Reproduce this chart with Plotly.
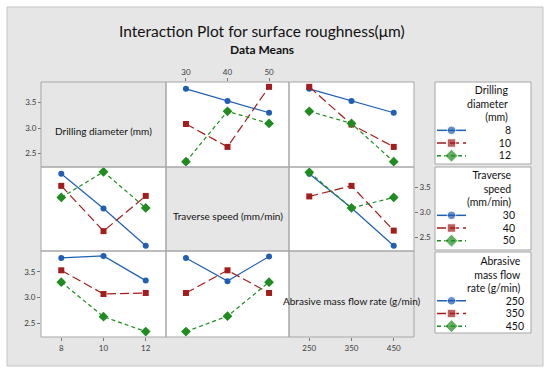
import plotly.graph_objects as go

W, H = 550, 370

# ---------------- data ----------------
factor_labels = ["Drilling diameter (mm)", "Traverse speed (mm/min)",
                 "Abrasive mass flow rate (g/min)"]
legend_titles = ["Drilling<br>diameter<br>(mm)", "Traverse<br>speed<br>(mm/min)",
                 "Abrasive<br>mass flow<br>rate (g/min)"]
drill_levels = [8, 10, 12]
speed_levels = [30, 40, 50]
flow_levels = [250, 350, 450]
# interaction means: rows = levels of first factor, columns = levels of second factor
mean_drill_speed = [[3.77, 3.53, 3.30], [3.08, 2.63, 3.81], [2.34, 3.33, 3.09]]
mean_drill_flow = [[3.77, 3.53, 3.30], [3.81, 3.07, 2.63], [3.33, 3.09, 2.34]]
mean_speed_flow = [[3.77, 3.09, 2.34], [3.32, 3.53, 2.64], [3.80, 3.09, 3.30]]
y_ticks = [2.5, 3.0, 3.5]
y_tick_text = ["2.5", "3.0", "3.5"]

levels = [drill_levels, speed_levels, flow_levels]
pair_means = {(0, 1): mean_drill_speed, (0, 2): mean_drill_flow, (1, 2): mean_speed_flow}


def means_for(r, c):
    if (r, c) in pair_means:
        return pair_means[(r, c)]
    m = pair_means[(c, r)]
    return [[m[i][j] for i in range(3)] for j in range(3)]


# ---------------- style ----------------
colors = ["#1f5fb4", "#a31d1d", "#1f8c1f"]
dashes = ["solid", "9px,4px", "4px,3px"]
symbols = ["circle", "square", "diamond"]
msizes = [6, 6, 7.5]
FONT = "Lato"
TICKFONT = dict(family=FONT, size=8, color="#3a3a3a")

col_px = [(41, 166), (166, 289), (289, 414)]
row_px = [(82, 167), (167, 251), (251, 337)]
y_range = [2.235, 3.905]


def fx(x):
    return x / W


def fy(y):
    return 1 - y / H


fig = go.Figure()
layout = {}
shapes = []
annotations = []

# background
shapes.append(dict(type="rect", xref="paper", yref="paper", x0=fx(7), x1=fx(543),
                   y0=fy(366), y1=fy(7), fillcolor="#e6e6e6",
                   line=dict(color="#c4c4c4", width=1), layer="below"))

k = 0
for r in range(3):
    for c in range(3):
        x0, x1 = col_px[c]
        y0, y1 = row_px[r]
        if r == c:
            annotations.append(dict(text=factor_labels[r], xref="paper", yref="paper",
                                    x=fx((x0 + x1) / 2), y=fy([131, 215.5, 300.5][r]),
                                    showarrow=False, xanchor="center", yanchor="middle",
                                    font=dict(family=FONT, size=10, color="#111")))
            continue
        shapes.append(dict(type="rect", xref="paper", yref="paper", x0=fx(x0), x1=fx(x1),
                           y0=fy(y1), y1=fy(y0), fillcolor="white", line=dict(width=0),
                           layer="below"))
        k += 1
        xa = "xaxis" if k == 1 else f"xaxis{k}"
        ya = "yaxis" if k == 1 else f"yaxis{k}"
        xr = "x" if k == 1 else f"x{k}"
        yr = "y" if k == 1 else f"y{k}"
        lv = levels[c]
        span = lv[-1] - lv[0]
        xax = dict(domain=[fx(x0), fx(x1)], range=[lv[0] - 0.24 * span, lv[-1] + 0.24 * span],
                   anchor=yr, showgrid=False, zeroline=False, showline=False,
                   showticklabels=False, ticks="", tickvals=lv, tickfont=TICKFONT,
                   ticklen=3, tickcolor="#777", tickwidth=1, fixedrange=True)
        yax = dict(domain=[fy(y1), fy(y0)], range=y_range, anchor=xr, showgrid=False,
                   zeroline=False, showline=False, showticklabels=False, ticks="",
                   tickvals=y_ticks, ticktext=y_tick_text, tickfont=TICKFONT,
                   ticklen=3, tickcolor="#777", tickwidth=1, fixedrange=True)
        if (r, c) == (0, 1):
            xax.update(side="top", showticklabels=True, ticks="outside")
            yax.update(anchor="free", position=fx(41), side="left",
                       showticklabels=True, ticks="outside")
        if (r, c) == (1, 2):
            yax.update(side="right", showticklabels=True, ticks="outside")
            xax.update(anchor="free", position=fy(337), side="bottom",
                       showticklabels=True, ticks="outside")
        if (r, c) == (2, 0):
            xax.update(showticklabels=True, ticks="outside")
            yax.update(showticklabels=True, ticks="outside")
        layout[xa] = xax
        layout[ya] = yax
        m = means_for(r, c)
        for i in range(3):
            fig.add_trace(go.Scatter(
                x=lv, y=m[i], xaxis=xr, yaxis=yr, mode="lines+markers",
                line=dict(color=colors[i], width=1.2, dash=dashes[i]),
                marker=dict(symbol=symbols[i], size=msizes[i], color=colors[i]),
                showlegend=False, hoverinfo="skip"))

# cell grid lines
for r in range(3):
    for c in range(3):
        x0, x1 = col_px[c]
        y0, y1 = row_px[r]
        shapes.append(dict(type="rect", xref="paper", yref="paper", x0=fx(x0), x1=fx(x1),
                           y0=fy(y1), y1=fy(y0), line=dict(color="#a6a6a6", width=1),
                           fillcolor="rgba(0,0,0,0)", layer="above"))

# ---------------- legend boxes (manual keys) ----------------
leg_box = [(82, 164), (167, 250), (252, 333)]
leg_title_top = [82, 167, 252.5]
leg_right = [510, 514, 523]
leg_entries = [(124, 162), (209, 247), (294.5, 332.5)]
for g in range(3):
    b0, b1 = leg_box[g]
    shapes.append(dict(type="rect", xref="paper", yref="paper", x0=fx(435), x1=fx(531),
                       y0=fy(b1), y1=fy(b0), fillcolor="white",
                       line=dict(color="#a6a6a6", width=1), layer="below"))
    annotations.append(dict(text=legend_titles[g], xref="paper", yref="paper",
                            x=fx(leg_right[g]), y=fy(leg_title_top[g]), xanchor="right",
                            yanchor="top", align="right", showarrow=False,
                            font=dict(family=FONT, size=10.5, color="#111")))
    k += 1
    xa, ya, xr, yr = f"xaxis{k}", f"yaxis{k}", f"x{k}", f"y{k}"
    e0, e1 = leg_entries[g]
    names = [str(v) for v in levels[g]]
    layout[xa] = dict(domain=[fx(437), fx(466)], range=[0, 1], visible=False,
                      anchor=yr, fixedrange=True)
    layout[ya] = dict(domain=[fy(e1), fy(e0)], type="category", categoryorder="array",
                      categoryarray=names[::-1], range=[-0.5, 2.5], anchor="free",
                      position=fx(leg_right[g] + 1), side="left", showgrid=False,
                      zeroline=False, showline=False, ticks="", ticklabelstandoff=0,
                      tickmode="array", tickvals=names, ticktext=names,
                      tickfont=dict(family=FONT, size=10.5, color="#111"), fixedrange=True)
    for i in range(3):
        fig.add_trace(go.Scatter(
            x=[0, 0.5, 1], y=[names[i]] * 3, xaxis=xr, yaxis=yr, mode="lines+markers",
            line=dict(color=colors[i], width=1.5, dash=dashes[i]),
            marker=dict(symbol=symbols[i], size=[0, msizes[i] + 2.5, 0], color=colors[i]),
            showlegend=False, hoverinfo="skip"))

# titles
annotations.append(dict(text="Interaction Plot for surface roughness(\u03bcm)", xref="paper",
                        yref="paper", x=fx(262), y=fy(31), showarrow=False,
                        xanchor="center", yanchor="middle",
                        font=dict(family=FONT, size=15.5, color="#111")))
annotations.append(dict(text="<b>Data Means</b>", xref="paper", yref="paper", x=fx(262),
                        y=fy(50), showarrow=False, xanchor="center", yanchor="middle",
                        font=dict(family=FONT, size=12, color="#111")))

fig.update_layout(width=W, height=H, margin=dict(l=0, r=0, t=0, b=0),
                  paper_bgcolor="white", plot_bgcolor="rgba(0,0,0,0)",
                  shapes=shapes, annotations=annotations, showlegend=False, **layout)
fig.write_html("out.html", config={"displayModeBar": False},
               post_script="document.body.style.margin='0';document.body.style.overflow='hidden';")
